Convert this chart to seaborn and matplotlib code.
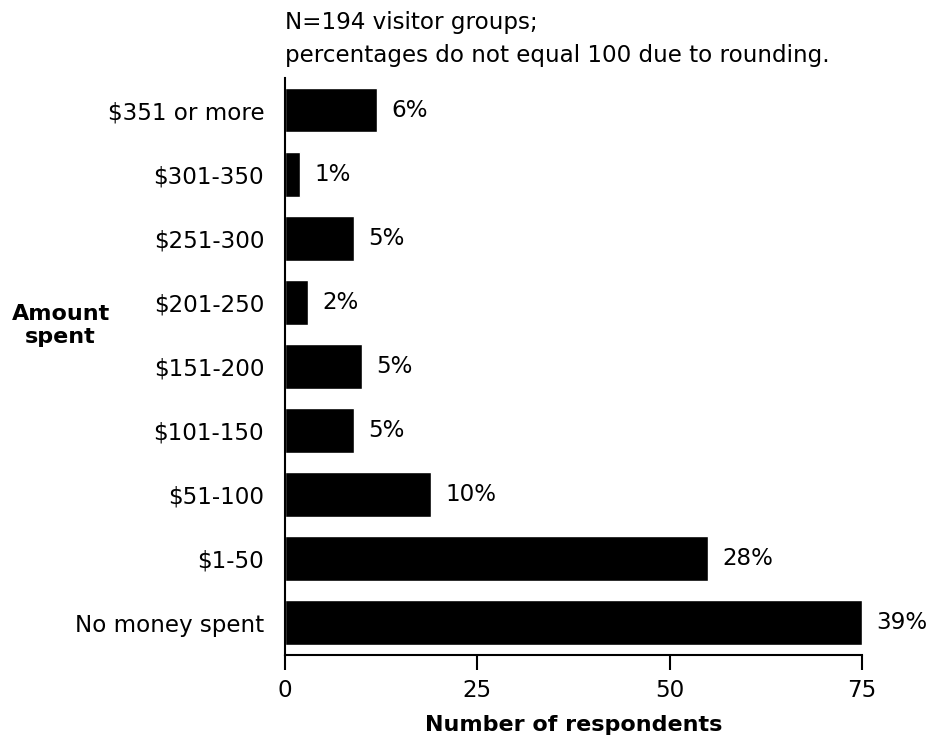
import matplotlib
matplotlib.use("Agg")
import pandas as pd
import seaborn as sns
import matplotlib.pyplot as plt

# ? Dados
categories = ["$351 or more", "$301-350", "$251-300", "$201-250", "$151-200",
              "$101-150", "$51-100", "$1-50", "No money spent"]
respondents = [12, 2, 9, 3, 10, 9, 19, 55, 75]
percent_labels = ["6%", "1%", "5%", "2%", "5%", "5%", "10%", "28%", "39%"]
x_ticks = [0, 25, 50, 75]

df = pd.DataFrame({"Amount": categories, "Count": respondents})

sns.set_style("white")
plt.rcParams["font.family"] = ["DejaVu Sans"]
plt.rcParams["text.color"] = "black"
plt.rcParams["axes.labelcolor"] = "black"
plt.rcParams["xtick.color"] = "black"
plt.rcParams["ytick.color"] = "black"

FS = 16.6

fig = plt.figure(figsize=(9.33, 7.4), dpi=100)
ax = fig.add_axes([0.3055, 0.1149, 0.6184, 0.7797])

sns.barplot(data=df, x="Count", y="Amount", orient="h", color="black",
            saturation=1, width=0.7, ax=ax)

ax.bar_label(ax.containers[0], labels=percent_labels, padding=10, fontsize=FS)

ax.set_xlim(0, 75)
ax.set_ylim(8.5, -0.5)
ax.set_xticks(x_ticks)
ax.tick_params(axis="x", bottom=True, length=11, width=1.5, labelsize=FS, pad=6)
ax.tick_params(axis="y", left=False, length=0, labelsize=FS, pad=15)

for side in ["top", "right"]:
    ax.spines[side].set_visible(False)
for side in ["left", "bottom"]:
    ax.spines[side].set_linewidth(1.5)
    ax.spines[side].set_color("black")

ax.set_ylabel("")
ax.set_xlabel("Number of respondents", fontsize=16, fontweight="bold", labelpad=10)

# rótulo do eixo y na horizontal, como no original
fig.text(0.065, 1 - 320 / 740, "Amount", ha="center", va="baseline",
         fontsize=16, fontweight="bold")
fig.text(0.065, 1 - 343 / 740, "spent", ha="center", va="baseline",
         fontsize=16, fontweight="bold")

# nota no topo
fig.text(0.3055, 1 - 29 / 740, "N=194 visitor groups;",
         ha="left", va="baseline", fontsize=FS)
fig.text(0.3055, 1 - 62 / 740, "percentages do not equal 100 due to rounding.",
         ha="left", va="baseline", fontsize=FS)

fig.savefig("out.png", dpi=100)
